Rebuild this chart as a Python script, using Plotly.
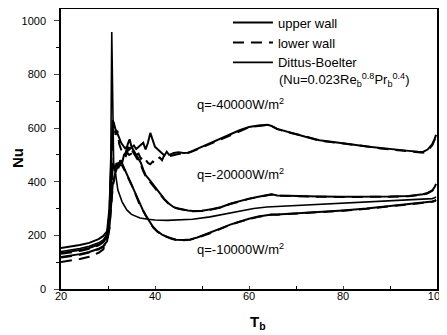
import plotly.graph_objects as go

# ---------------- data ----------------
T40 = [20, 22, 24, 26, 28, 29, 29.8, 30.3, 30.7, 31.0, 31.3, 31.6, 32.0, 32.4, 32.8,
       33.2, 33.6, 34.0, 34.5, 35.0, 35.5, 36.0, 36.5, 37.0, 37.5, 38.0, 38.5, 39.0,
       39.5, 40.0, 40.5, 41.0, 41.5, 42.0, 42.5, 43.0, 44, 45, 46, 47, 48, 50, 52, 54,
       56, 58, 60, 62, 64, 64.8, 66, 68, 70, 72, 75, 78, 80, 82, 85, 88, 90, 92, 94,
       96, 97, 98, 99, 99.5, 99.8]
upper40 = [153, 158, 164, 172, 186, 198, 215, 300, 520, 630, 615, 595, 580, 560, 545,
           535, 525, 530, 520, 528, 535, 522, 530, 540, 545, 520, 545, 582,
           555, 530, 522, 515, 505, 498, 512, 500, 507, 510, 507, 508, 515, 530, 545, 560,
           578, 592, 604, 610, 612, 608, 597, 587, 577, 568, 555, 549, 544, 539, 531, 525, 521, 518, 515,
           512, 511, 520, 540, 560, 575]
lower40 = [101, 106, 112, 120, 135, 148, 190, 280, 480, 600, 620, 575, 590, 540, 520,
           510, 495, 510, 500, 505, 515, 500, 505, 485, 495, 480, 470, 465,
           475, 470, 485, 490, 480, 500, 505, 495, 500, 503, 505, 507, 513, 528, 543, 558,
           576, 590, 603, 608, 611, 607, 596, 586, 578, 569, 553, 547, 543, 537, 532, 524, 520, 516, 513,
           509, 508, 516, 536, 557, 572]

T20 = [20, 22, 24, 26, 28, 29, 29.8, 30.3, 30.7, 31.0, 31.4, 31.8, 32.2, 32.6, 33.0,
       33.4, 33.8, 34.2, 34.6, 35.0, 35.5, 36.0, 36.5, 37.0, 37.5, 38.0, 39.0, 40.0,
       41.0, 42.0, 43.0, 44.0, 45, 46, 47, 48, 49, 50, 52, 54, 56, 58, 60, 62, 64, 64.8,
       66, 70, 75, 80, 85, 90, 94, 96, 97, 98, 99, 99.5, 99.8]
upper20 = [134, 139, 145, 153, 166, 177, 195, 260, 420, 470, 440, 470, 450, 480, 470,
           500, 510, 540, 558, 530, 515, 500, 488, 470, 445, 425, 403, 380,
           358, 335, 318, 305, 300, 296, 293, 291, 291, 292, 297, 305, 318, 328, 337, 344, 351, 353,
           349, 346, 345, 344, 344, 345, 347, 350, 353, 358, 368, 380, 392]
lower20 = [131, 136, 142, 150, 163, 174, 192, 250, 400, 455, 460, 455, 470, 465, 485,
           480, 495, 520, 535, 520, 505, 492, 480, 462, 440, 420, 398, 376,
           355, 333, 316, 304, 299, 295, 292, 290, 290, 291, 296, 304, 317, 327, 336, 343, 350, 352,
           348, 345, 344, 343, 343, 344, 346, 349, 352, 357, 366, 378, 390]

T10 = [20, 22, 24, 26, 28, 29, 29.8, 30.3, 30.7, 31.0, 31.5, 32.0, 32.5, 33.0, 33.6,
       34.2, 34.8, 35.3, 36.0, 36.6, 37.4, 38.0, 38.8, 39.6, 40.5, 41.5, 42.6, 43.5,
       44.5, 46.0, 47.5, 49, 51.7, 54, 56, 58, 60, 62, 64, 64.8, 66, 70, 75, 80, 85,
       90, 95, 98, 99, 99.5, 99.8]
upper10 = [119, 124, 130, 138, 150, 160, 178, 230, 330, 390, 430, 455, 470, 468, 444,
           420, 400, 381, 350, 322, 295, 275, 252, 231, 215, 203, 194, 188,
           184, 183, 185, 192, 209, 226, 240, 252, 262, 270, 276, 278, 278, 282, 287, 293, 300,
           309, 318, 323, 326, 329, 332]
lower10 = [117, 122, 128, 136, 148, 158, 176, 225, 320, 380, 425, 450, 462, 460, 440,
           415, 396, 378, 348, 320, 294, 274, 251, 230, 214, 202, 193, 187,
           183, 182, 184, 191, 208, 225, 239, 251, 261, 269, 275, 277, 277, 281, 286, 292, 299,
           308, 317, 322, 325, 328, 331]

T_db = [20, 22, 24, 26, 28, 29, 29.8, 30.3, 30.6, 30.8, 31.0, 31.2, 31.6, 32.1, 33.0,
        34.0, 35.0, 36.8, 38.5, 40, 42.6, 45, 48, 51.7, 55, 58, 61, 63.8, 66, 70,
        75, 80, 85, 90, 95, 99, 99.5, 99.8]
nu_db = [140, 145, 151, 159, 172, 183, 205, 280, 500, 958, 600, 470, 430, 369, 325,
         295, 278, 265, 260, 257, 256, 257, 260, 269, 280, 291, 300, 306, 308, 311,
         315, 319, 324, 328, 333, 337, 340, 343]

x_ticks = [20, 40, 60, 80, 100]
y_ticks = [0, 200, 400, 600, 800, 1000]

labels = ["q=-40000W/m<sup>2</sup>", "q=-20000W/m<sup>2</sup>", "q=-10000W/m<sup>2</sup>"]
label_x = [48.5, 48.5, 48.5]
label_y = [690, 428, 150]

legend_names = ["upper wall", "lower wall", "Dittus-Boelter"]
formula_text = "(Nu=0.023Re<sub>b</sub><sup>0.8</sup>Pr<sub>b</sub><sup>0.4</sup>)"

# ---------------- figure ----------------
FONT = "Liberation Sans, Arial, sans-serif"
DASH = "11px,7px"
fig = go.Figure()

def add(x, y, dash, width, name=None, show=False):
    fig.add_trace(go.Scatter(x=x, y=y, mode="lines",
                             line=dict(color="black", width=width, dash=dash),
                             name=name, showlegend=show))

add(T40, upper40, "solid", 2, legend_names[0], True)
add(T40, lower40, DASH, 2, legend_names[1], True)
add(T_db, nu_db, "solid", 1.6, legend_names[2], True)
add(T20, upper20, "solid", 2)
add(T20, lower20, DASH, 2)
add(T10, upper10, "solid", 2)
add(T10, lower10, DASH, 2)

for t, xx, yy in zip(labels, label_x, label_y):
    fig.add_annotation(x=xx, y=yy, text=t, showarrow=False, xanchor="left",
                       yanchor="middle", font=dict(size=13, color="black", family=FONT))

# formula line under the legend
fig.add_annotation(xref="paper", yref="paper", x=0.574, y=0.746, text=formula_text,
                   showarrow=False, xanchor="left", yanchor="middle",
                   font=dict(size=13, family=FONT, color="black"))

# axis titles
fig.add_annotation(xref="paper", yref="paper", x=-0.114, y=0.468, text="<b>Nu</b>",
                   textangle=-90, showarrow=False, xanchor="center", yanchor="middle",
                   font=dict(size=15, family=FONT, color="black"))
fig.add_annotation(xref="paper", yref="paper", x=0.524, y=-0.118, text="<b>T<sub>b</sub></b>",
                   showarrow=False, xanchor="center", yanchor="middle",
                   font=dict(size=15, family=FONT, color="black"))

fig.update_layout(
    width=439, height=327,
    margin=dict(l=53, r=10, t=1, b=46, autoexpand=False),
    paper_bgcolor="white", plot_bgcolor="white",
    font=dict(family=FONT, color="black", size=11),
    legend=dict(x=0.444, y=1.005, xanchor="left", yanchor="top",
                bgcolor="rgba(0,0,0,0)", font=dict(size=13, family=FONT),
                valign="top", tracegroupgap=0, itemwidth=40),
)
fig.update_xaxes(range=[20, 100], tickvals=x_ticks, ticks="inside", ticklen=3,
                 tickwidth=1, showline=True, linecolor="black", linewidth=1.5,
                 mirror=True, showgrid=False, zeroline=False, automargin=False,
                 ticklabelstandoff=-4,
                 minor=dict(dtick=10, ticks="inside", ticklen=3, tickcolor="black"))
fig.update_yaxes(range=[0, 1044], tickvals=y_ticks, ticks="outside", ticklen=5,
                 tickwidth=1, showline=True, linecolor="black", linewidth=1.5,
                 mirror=True, showgrid=False, zeroline=False, automargin=False,
                 ticklabelstandoff=6,
                 minor=dict(dtick=100, ticks="outside", ticklen=3, tickcolor="black"))

fig.write_html("out.html")
